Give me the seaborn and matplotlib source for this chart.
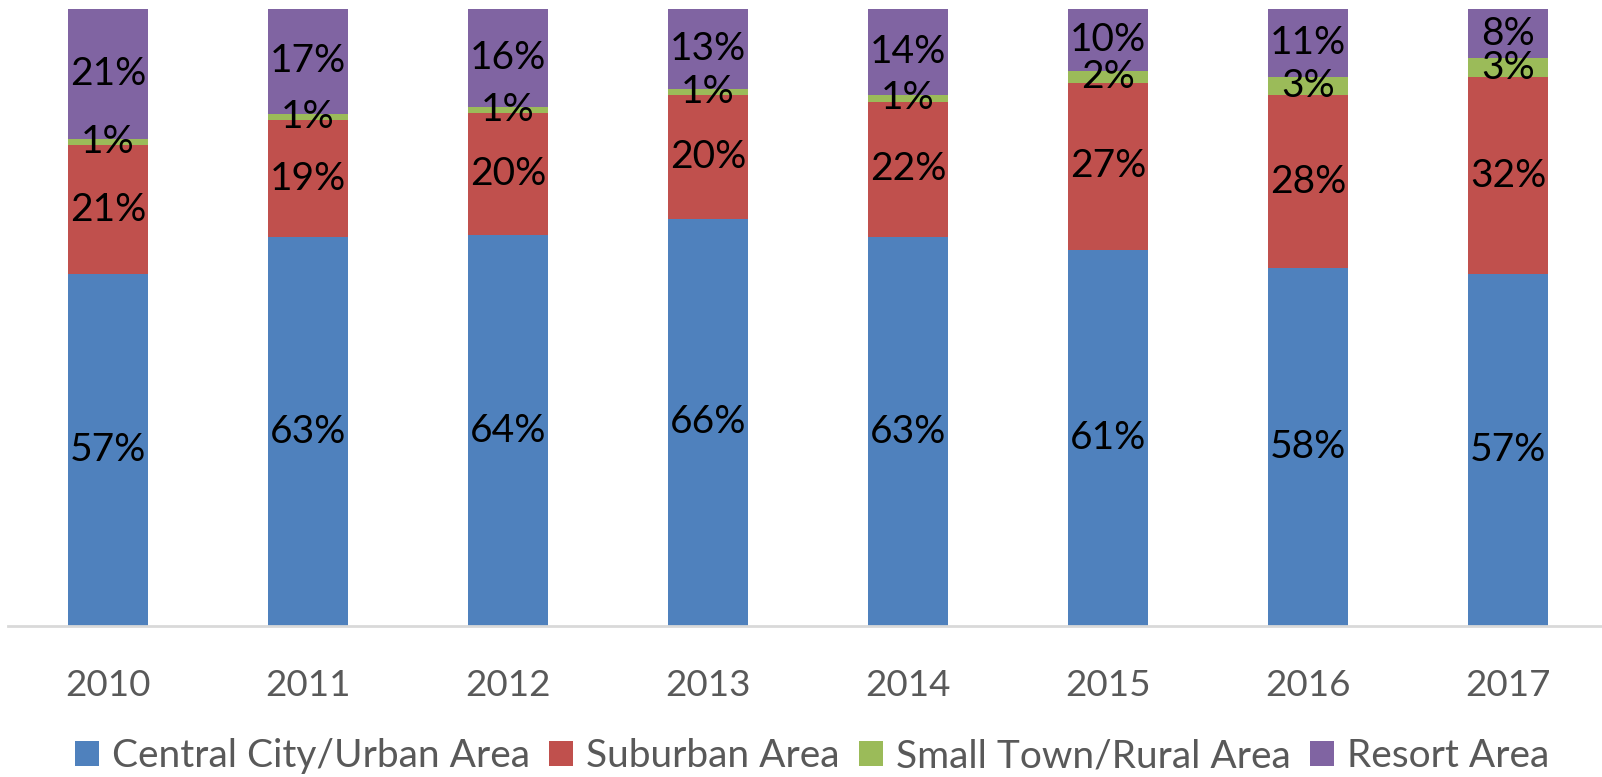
import matplotlib
matplotlib.use("Agg")
import matplotlib.pyplot as plt
import seaborn as sns
import pandas as pd
import numpy as np
from matplotlib.patches import Patch

years = ["2010", "2011", "2012", "2013", "2014", "2015", "2016", "2017"]
central_urban = [57, 63, 64, 66, 63, 61, 58, 57]
suburban = [21, 19, 20, 20, 22, 27, 28, 32]
small_town_rural = [1, 1, 1, 1, 1, 2, 3, 3]
resort = [21, 17, 16, 13, 14, 10, 11, 8]

series_names = ["Central City/Urban Area", "Suburban Area", "Small Town/Rural Area", "Resort Area"]
series_values = [central_urban, suburban, small_town_rural, resort]
colors = ["#4F81BD", "#C0504D", "#9BBB59", "#8064A2"]

sns.set_theme(style="white")
plt.rcParams['font.family'] = ['Lato', 'DejaVu Sans']

vals = np.array(series_values, dtype=float)
shares = vals / vals.sum(axis=0)          # 100% stacked
cum = np.cumsum(shares, axis=0)

W, H = 1602, 777
fig = plt.figure(figsize=(W / 100, H / 100), dpi=100)
ax = fig.add_axes([8 / W, 1 - 626 / H, (W - 8) / W, (626 - 9) / H])

# draw cumulative tops from largest to smallest so layers stack
for i in reversed(range(len(series_names))):
    df = pd.DataFrame({"year": years, "value": cum[i]})
    sns.barplot(data=df, x="year", y="value", color=colors[i], width=0.4,
                saturation=1, ax=ax, linewidth=0, errorbar=None)

# centered data labels
for i in range(len(series_names)):
    for j in range(len(years)):
        bottom = cum[i - 1][j] if i > 0 else 0
        center = bottom + shares[i][j] / 2
        ax.text(j, center, f"{int(series_values[i][j])}%", ha="center", va="center",
                fontsize=28, color="black")

ax.set_ylim(0, 1)
ax.set_xlim(-0.5, -0.5 + (W - 8) / 200)
ax.set_xlabel("")
ax.set_ylabel("")
ax.set_yticks([])
for s in ["top", "right", "left"]:
    ax.spines[s].set_visible(False)
ax.spines["bottom"].set_color("#D9D9D9")
ax.spines["bottom"].set_linewidth(2)
ax.tick_params(axis="x", length=0, pad=31, labelsize=26.5, labelcolor="#595959")

handles = [Patch(facecolor=c, edgecolor="none") for c in colors]
fig.legend(handles, series_names, loc="center", bbox_to_anchor=(0.507, 0.027),
           ncol=4, frameon=False, fontsize=28, labelcolor="#595959",
           handlelength=0.62, handleheight=0.62, handletextpad=0.33,
           columnspacing=0.5, borderpad=0, borderaxespad=0)

fig.savefig("out.png", dpi=100)
